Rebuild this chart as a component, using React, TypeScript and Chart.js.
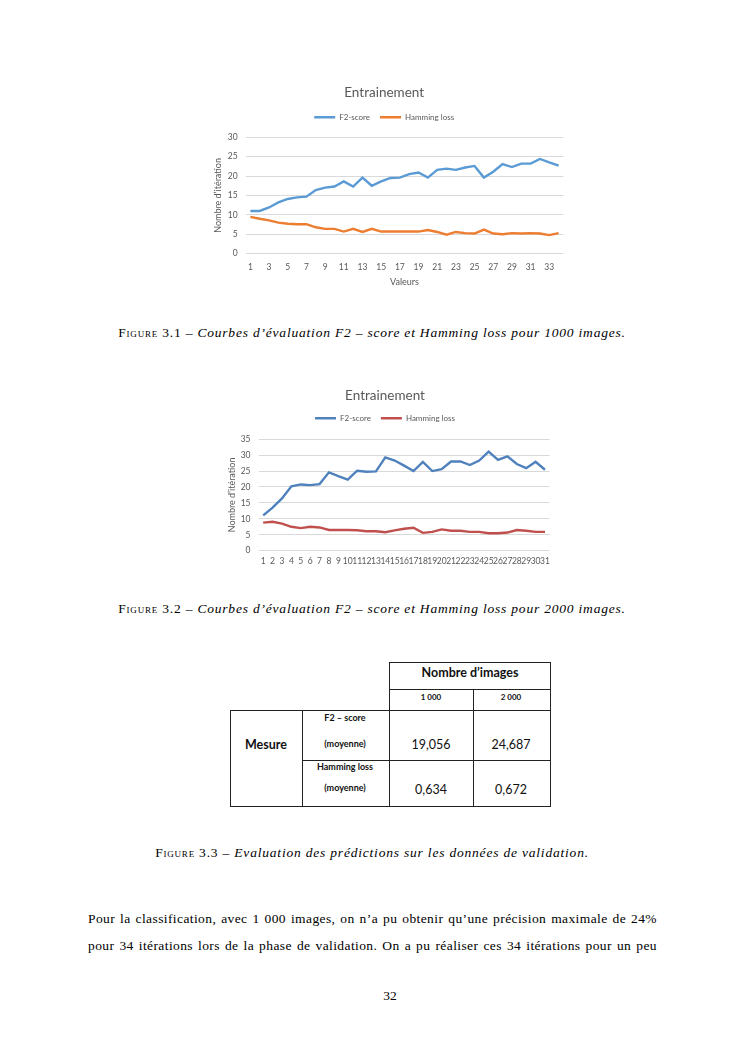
import React, { useEffect, useRef } from "react";
import { Chart, registerables } from "chart.js";

Chart.register(...registerables);
Chart.defaults.font.family = "Lato, 'Open Sans', sans-serif";

// ---------- Data ----------
const iterations1000 = [
  "1", "2", "3", "4", "5", "6", "7", "8", "9", "10", "11", "12", "13", "14", "15", "16", "17",
  "18", "19", "20", "21", "22", "23", "24", "25", "26", "27", "28", "29", "30", "31", "32", "33", "34",
];
const f2Score1000 = [
  11.0, 11.0, 11.9, 13.2, 14.1, 14.5, 14.7, 16.4, 17.0, 17.3, 18.6, 17.3, 19.6, 17.5, 18.6, 19.5, 19.6,
  20.5, 20.9, 19.6, 21.6, 21.9, 21.6, 22.2, 22.6, 19.6, 21.1, 23.1, 22.3, 23.2, 23.2, 24.4, 23.5, 22.7,
];
const hamming1000 = [
  9.5, 9.0, 8.6, 8.0, 7.7, 7.6, 7.6, 6.8, 6.4, 6.4, 5.7, 6.4, 5.6, 6.4, 5.7, 5.7, 5.7,
  5.7, 5.7, 6.1, 5.6, 4.9, 5.6, 5.3, 5.2, 6.2, 5.2, 5.0, 5.3, 5.2, 5.3, 5.2, 4.8, 5.3,
];

const iterations2000 = [
  "1", "2", "3", "4", "5", "6", "7", "8", "9", "10", "11", "12", "13", "14", "15", "16",
  "17", "18", "19", "20", "21", "22", "23", "24", "25", "26", "27", "28", "29", "30", "31",
];
const f2Score2000 = [
  11.1, 13.5, 16.4, 20.2, 20.8, 20.6, 20.9, 24.6, 23.4, 22.3, 25.1, 24.8, 24.9, 29.3, 28.3, 26.7,
  25.0, 27.9, 25.0, 25.6, 28.0, 28.0, 26.9, 28.3, 31.1, 28.5, 29.6, 27.2, 25.9, 27.9, 25.4,
];
const hamming2000 = [
  8.8, 9.1, 8.5, 7.5, 7.1, 7.5, 7.3, 6.5, 6.5, 6.5, 6.4, 6.1, 6.1, 5.8, 6.4, 6.9,
  7.2, 5.6, 5.9, 6.7, 6.25, 6.25, 5.9, 5.9, 5.5, 5.5, 5.7, 6.5, 6.25, 5.9, 5.9,
];

const seriesNames = ["F2-score", "Hamming loss"];
const chartTitle = "Entrainement";
const yAxisTitle = "Nombre d’itération";
const xAxisTitle = "Valeurs";
const yMax1000 = 30;
const yMax2000 = 35;
const yStep = 5;

const tableHeader = "Nombre d’images";
const tableColumns = ["1 000", "2 000"];
const tableGroup = "Mesure";
const tableRows = [
  { name: "F2 – score", values: ["19,056", "24,687"] },
  { name: "Hamming loss", values: ["0,634", "0,672"] },
];

const TXT = "#595959";
const GRID = "#D9D9D9";

type ChartSpec = {
  labels: string[];
  a: number[];
  b: number[];
  colorA: string;
  colorB: string;
  yMax: number;
  everyOther: boolean;
  showXTitle: boolean;
  yWidth: number;
  xHeight: number;
  padTop: number;
  padRight: number;
  yTitlePad: number;
  titleGap: number;
  legendGap: number;
  xTickPad: number;
};

function LineChart({ spec, style }: { spec: ChartSpec; style: React.CSSProperties }) {
  const ref = useRef<HTMLCanvasElement>(null);
  useEffect(() => {
    if (!ref.current) return;
    const legendGapPlugin = {
      id: "legendGap",
      beforeInit(chart: any) {
        const lg = chart.legend;
        if (!lg) return;
        const orig = lg.fit;
        lg.fit = function () {
          orig.call(lg);
          lg.height += spec.legendGap;
        };
      },
    };
    const chart = new Chart(ref.current, {
      type: "line",
      data: {
        labels: spec.labels,
        datasets: [
          {
            label: seriesNames[0],
            data: spec.a,
            borderColor: spec.colorA,
            backgroundColor: spec.colorA,
            borderWidth: 2.4,
            pointRadius: 0,
            tension: 0,
          },
          {
            label: seriesNames[1],
            data: spec.b,
            borderColor: spec.colorB,
            backgroundColor: spec.colorB,
            borderWidth: 2.4,
            pointRadius: 0,
            tension: 0,
          },
        ],
      },
      plugins: [legendGapPlugin],
      options: {
        animation: false,
        responsive: true,
        maintainAspectRatio: false,
        events: [],
        layout: { padding: { top: spec.padTop, right: spec.padRight, left: 0, bottom: 0 } },
        plugins: {
          title: {
            display: true,
            text: chartTitle,
            color: TXT,
            font: { size: 13.5, weight: "normal" },
            padding: { top: 0, bottom: spec.titleGap },
          },
          legend: {
            display: true,
            position: "top",
            labels: {
              color: TXT,
              font: { size: 8 },
              usePointStyle: true,
              pointStyle: "line",
              pointStyleWidth: 21,
              boxHeight: 8,
              padding: 10,
            },
          },
          tooltip: { enabled: false },
        },
        scales: {
          x: {
            offset: true,
            grid: { display: false, drawTicks: false },
            border: { display: false },
            ticks: {
              autoSkip: false,
              maxRotation: 0,
              minRotation: 0,
              color: TXT,
              font: { size: 8.5 },
              padding: spec.xTickPad,
              callback: (_v: any, i: number) =>
                spec.everyOther ? (i % 2 === 0 ? spec.labels[i] : "") : spec.labels[i],
            },
            title: {
              display: spec.showXTitle,
              text: xAxisTitle,
              color: TXT,
              font: { size: 9 },
              padding: { top: 0, bottom: 7 },
            },
            afterFit: (s: any) => {
              s.height = spec.xHeight;
            },
          },
          y: {
            min: 0,
            max: spec.yMax,
            grid: { color: GRID, drawTicks: false, lineWidth: 1 },
            border: { display: false },
            ticks: { stepSize: yStep, color: TXT, font: { size: 8.5 }, padding: 8 },
            title: {
              display: true,
              text: yAxisTitle,
              color: TXT,
              font: { size: 9 },
              padding: { top: spec.yTitlePad, bottom: 0 },
            },
            afterFit: (s: any) => {
              s.width = spec.yWidth;
            },
          },
        },
      },
    });
    return () => chart.destroy();
  }, []);
  return (
    <div style={{ position: "absolute", ...style }}>
      <canvas ref={ref} />
    </div>
  );
}

const serif = "'Liberation Serif', 'DejaVu Serif', serif";
const sans = "Lato, 'Open Sans', sans-serif";

function Caption({ num, text, y }: { num: string; text: string; y: number }) {
  return (
    <div
      style={{
        position: "absolute",
        left: 0,
        width: 744,
        top: y - 9,
        lineHeight: "18px",
        textAlign: "center",
        fontFamily: serif,
        fontSize: 13.5,
        whiteSpace: "nowrap",
        color: "#000",
        letterSpacing: "0.8px",
      }}
    >
      <span style={{ fontVariant: "small-caps" }}>Figure {num}</span> – <i>{text}</i>
    </div>
  );
}

function Line({ x1, y1, x2, y2 }: { x1: number; y1: number; x2: number; y2: number }) {
  return (
    <div
      style={{
        position: "absolute",
        left: x1,
        top: y1,
        width: Math.max(1, x2 - x1),
        height: Math.max(1, y2 - y1),
        background: "#222",
      }}
    />
  );
}

function Cell({
  x,
  y,
  w,
  text,
  size,
  bold,
}: {
  x: number;
  y: number;
  w: number;
  text: string;
  size: number;
  bold?: boolean;
}) {
  return (
    <div
      style={{
        position: "absolute",
        left: x - w / 2,
        width: w,
        top: y - 10,
        lineHeight: "20px",
        textAlign: "center",
        fontFamily: sans,
        fontSize: size,
        fontWeight: bold ? 700 : 400,
        color: "#111",
        whiteSpace: "nowrap",
      }}
    >
      {text}
    </div>
  );
}

export default function App() {
  const spec1: ChartSpec = {
    labels: iterations1000,
    a: f2Score1000,
    b: hamming1000,
    colorA: "#5B9BD5",
    colorB: "#ED7D31",
    yMax: yMax1000,
    everyOther: true,
    showXTitle: true,
    yWidth: 40.7,
    xHeight: 40.3,
    padTop: 7,
    padRight: 11.7,
    yTitlePad: 8,
    titleGap: 2,
    legendGap: 6,
    xTickPad: 8,
  };
  const spec2: ChartSpec = {
    labels: iterations2000,
    a: f2Score2000,
    b: hamming2000,
    colorA: "#4F81BD",
    colorB: "#C0504D",
    yMax: yMax2000,
    everyOther: false,
    showXTitle: false,
    yWidth: 38.5,
    xHeight: 19.3,
    padTop: 8,
    padRight: 5,
    yTitlePad: 7,
    titleGap: 0,
    legendGap: 7,
    xTickPad: 5,
  };

  return (
    <div style={{ position: "absolute", left: 0, top: 0, width: 745, height: 1053, background: "#fff" }}>
      <LineChart spec={spec1} style={{ left: 205, top: 78, width: 370, height: 216 }} />
      <Caption num="3.1" text="Courbes d’évaluation F2 – score et Hamming loss pour 1000 images." y={333} />

      <LineChart spec={spec2} style={{ left: 220, top: 380, width: 335, height: 190 }} />
      <Caption num="3.2" text="Courbes d’évaluation F2 – score et Hamming loss pour 2000 images." y={609} />

      {/* Table */}
      <Line x1={389} y1={662} x2={551} y2={663} />
      <Line x1={389} y1={662} x2={390} y2={807} />
      <Line x1={550} y1={662} x2={551} y2={807} />
      <Line x1={389} y1={689} x2={551} y2={690} />
      <Line x1={230} y1={710} x2={551} y2={711} />
      <Line x1={473} y1={689} x2={474} y2={807} />
      <Line x1={230} y1={710} x2={231} y2={807} />
      <Line x1={302} y1={710} x2={303} y2={807} />
      <Line x1={302} y1={760} x2={551} y2={761} />
      <Line x1={230} y1={806} x2={551} y2={807} />

      <Cell x={470} y={673} w={160} text={tableHeader} size={12.5} bold />
      <Cell x={431} y={697} w={80} text={tableColumns[0]} size={8} bold />
      <Cell x={511} y={697} w={80} text={tableColumns[1]} size={8} bold />
      <Cell x={266} y={745} w={72} text={tableGroup} size={12.5} bold />
      <Cell x={345} y={718} w={86} text={tableRows[0].name} size={9} bold />
      <Cell x={345} y={744} w={86} text="(moyenne)" size={9} bold />
      <Cell x={431} y={745} w={84} text={tableRows[0].values[0]} size={12.5} />
      <Cell x={511} y={745} w={76} text={tableRows[0].values[1]} size={12.5} />
      <Cell x={345} y={767} w={86} text={tableRows[1].name} size={9} bold />
      <Cell x={345} y={788} w={86} text="(moyenne)" size={9} bold />
      <Cell x={431} y={790} w={84} text={tableRows[1].values[0]} size={12.5} />
      <Cell x={511} y={790} w={76} text={tableRows[1].values[1]} size={12.5} />

      <Caption num="3.3" text="Evaluation des prédictions sur les données de validation." y={853} />

      <div
        style={{
          position: "absolute",
          left: 88,
          width: 569,
          top: 905,
          fontFamily: serif,
          fontSize: 13.5,
          lineHeight: "27px",
          letterSpacing: "0.4px",
          color: "#000",
        }}
      >
        <div style={{ whiteSpace: "nowrap", textAlign: "justify", textAlignLast: "justify" }}>
          Pour la classification, avec 1 000 images, on n’a pu obtenir qu’une précision maximale de 24%
        </div>
        <div style={{ whiteSpace: "nowrap", textAlign: "justify", textAlignLast: "justify" }}>
          pour 34 itérations lors de la phase de validation. On a pu réaliser ces 34 itérations pour un peu
        </div>
      </div>

      <div
        style={{
          position: "absolute",
          left: 0,
          width: 780,
          top: 987,
          lineHeight: "18px",
          textAlign: "center",
          fontFamily: serif,
          fontSize: 13.5,
          color: "#000",
        }}
      >
        32
      </div>
    </div>
  );
}
